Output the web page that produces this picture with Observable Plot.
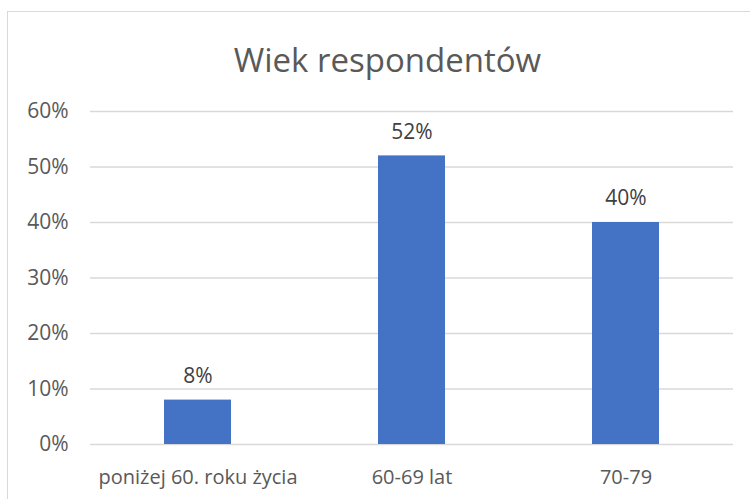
<!DOCTYPE html>
<html>
<head>
<meta charset="utf-8">
<script src="https://cdn.jsdelivr.net/npm/d3@7"></script>
<script src="https://cdn.jsdelivr.net/npm/@observablehq/plot@0.6"></script>
<style>
  html, body { margin: 0; padding: 0; background: #fff; }
  body { width: 750px; height: 499px; overflow: hidden; position: relative; font-family: "Open Sans", sans-serif; }
  #frame { position: absolute; left: 7px; top: 11px; width: 800px; height: 600px; border: 1.5px solid #d9d9d9; box-sizing: border-box; }
  #title { position: absolute; left: 0; width: 775px; top: 38px; text-align: center; font-size: 33px; color: #595959; line-height: 44px; }
  #chart { position: absolute; left: 0; top: 0; }
</style>
</head>
<body>
<div id="frame"></div>
<div id="title">Wiek respondentów</div>
<div id="chart"></div>
<script>
const categories = ["poniżej 60. roku życia", "60-69 lat", "70-79"];
const values = [0.08, 0.52, 0.40];
const valueLabels = ["8%", "52%", "40%"];
const yTicks = [0, 0.1, 0.2, 0.3, 0.4, 0.5, 0.6];

const data = categories.map((c, i) => ({category: c, value: values[i], label: valueLabels[i]}));

const chart = Plot.plot({
  width: 750,
  height: 499,
  marginTop: 111,
  marginBottom: 55,
  marginLeft: 90,
  marginRight: 17,
  style: {fontFamily: "Open Sans, sans-serif", fontSize: "21px", color: "#595959", background: "transparent"},
  x: {domain: categories, paddingInner: 0.687, paddingOuter: 0.3435, label: null},
  y: {domain: [0, 0.6], label: null},
  marks: [
    Plot.gridY(yTicks, {stroke: "#d9d9d9", strokeOpacity: 1, strokeWidth: 1.5}),
    Plot.barY(data, {x: "category", y: "value", fill: "#4472c4"}),
    Plot.text(data, {x: "category", y: "value", text: "label", dy: -24, fontSize: 21, fill: "#404040"}),
    Plot.axisY({ticks: yTicks, tickFormat: d => Math.round(d * 100) + "%", tickSize: 0, tickPadding: 22, fontSize: 21, fill: "#595959"}),
    Plot.axisX({tickSize: 0, tickPadding: 25, fontSize: 20, fill: "#595959"})
  ]
});
document.getElementById("chart").appendChild(chart);
</script>
</body>
</html>
